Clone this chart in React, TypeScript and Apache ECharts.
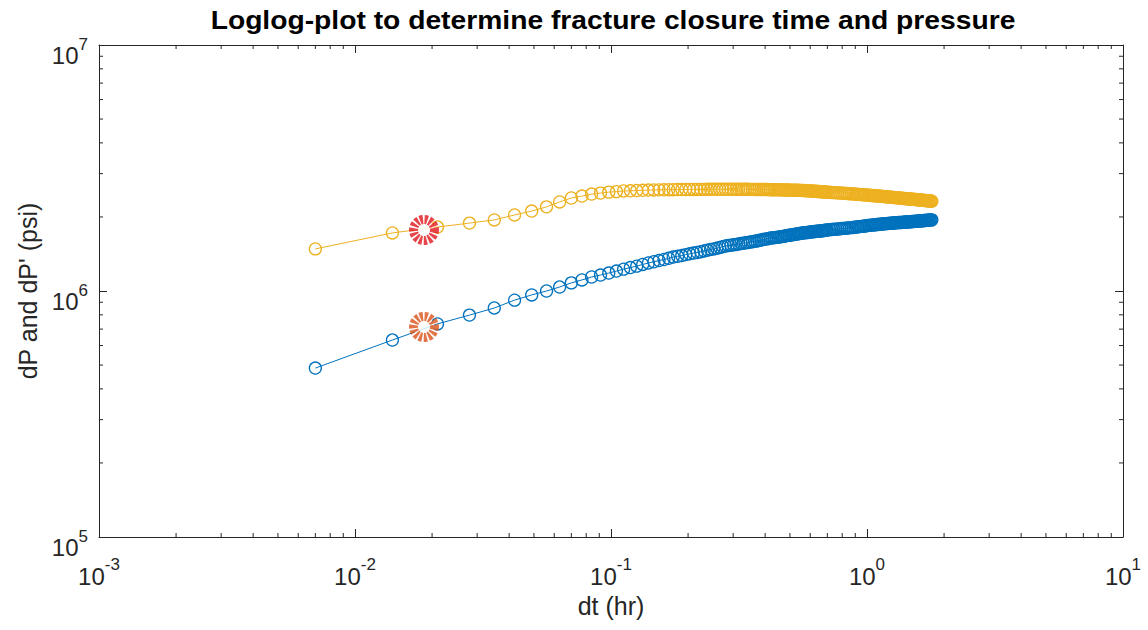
import React, { useEffect, useRef } from "react";
import * as echarts from "echarts";

// Elapsed time since shut-in (hr)
const dtHr = [
  0.007, 0.014, 0.021, 0.028, 0.035, 0.042, 0.049, 0.056, 0.063, 0.07,
  0.077, 0.084, 0.091, 0.098, 0.105, 0.112, 0.119, 0.126, 0.133, 0.14,
  0.147, 0.154, 0.161, 0.168, 0.175, 0.182, 0.189, 0.196, 0.203, 0.21,
  0.217, 0.224, 0.231, 0.238, 0.245, 0.252, 0.259, 0.266, 0.273, 0.28,
  0.287, 0.294, 0.301, 0.308, 0.315, 0.322, 0.329, 0.336, 0.343, 0.35,
  0.357, 0.364, 0.371, 0.378, 0.385, 0.392, 0.399, 0.406, 0.413, 0.42,
  0.427, 0.434, 0.441, 0.448, 0.455, 0.462, 0.469, 0.476, 0.483, 0.49,
  0.497, 0.504, 0.511, 0.518, 0.525, 0.532, 0.539, 0.546, 0.553, 0.56,
  0.567, 0.574, 0.581, 0.588, 0.595, 0.602, 0.609, 0.616, 0.623, 0.63,
  0.637, 0.644, 0.651, 0.658, 0.665, 0.672, 0.679, 0.686, 0.693, 0.7,
  0.714, 0.728, 0.742, 0.756, 0.77, 0.784, 0.798, 0.812, 0.826, 0.84,
  0.854, 0.868, 0.882, 0.896, 0.91, 0.924, 0.938, 0.952, 0.966, 0.98,
  0.994, 1.008, 1.022, 1.036, 1.05, 1.064, 1.078, 1.092, 1.106, 1.12,
  1.134, 1.148, 1.162, 1.176, 1.19, 1.204, 1.218, 1.232, 1.246, 1.26,
  1.274, 1.288, 1.302, 1.316, 1.33, 1.344, 1.358, 1.372, 1.386, 1.4,
  1.414, 1.428, 1.442, 1.456, 1.47, 1.484, 1.498, 1.512, 1.526, 1.54,
  1.554, 1.568, 1.582, 1.596, 1.61, 1.624, 1.638, 1.652, 1.666, 1.68,
  1.694, 1.708, 1.722, 1.736, 1.75, 1.764, 1.778, 1.792,
];

// dP (psi) - blue
const dP = [
  4.86e5, 6.32e5, 7.35e5, 7.98e5, 8.53e5, 9.18e5, 9.64e5, 1.0e6, 1.038e6, 1.079e6,
  1.109e6, 1.14e6, 1.161e6, 1.183e6, 1.205e6, 1.227e6, 1.245e6, 1.262e6, 1.282e6, 1.3e6,
  1.315e6, 1.33e6, 1.343e6, 1.358e6, 1.374e6, 1.384e6, 1.393e6, 1.406e6, 1.416e6, 1.426e6,
  1.435e6, 1.445e6, 1.455e6, 1.466e6, 1.476e6, 1.483e6, 1.493e6, 1.503e6, 1.514e6, 1.524e6,
  1.531e6, 1.535e6, 1.542e6, 1.545e6, 1.552e6, 1.56e6, 1.563e6, 1.57e6, 1.574e6, 1.581e6,
  1.586e6, 1.592e6, 1.597e6, 1.603e6, 1.611e6, 1.618e6, 1.623e6, 1.629e6, 1.635e6, 1.641e6,
  1.644e6, 1.648e6, 1.652e6, 1.656e6, 1.659e6, 1.663e6, 1.667e6, 1.671e6, 1.677e6, 1.683e6,
  1.686e6, 1.69e6, 1.694e6, 1.698e6, 1.702e6, 1.706e6, 1.71e6, 1.714e6, 1.718e6, 1.722e6,
  1.724e6, 1.726e6, 1.728e6, 1.73e6, 1.734e6, 1.738e6, 1.74e6, 1.742e6, 1.744e6, 1.746e6,
  1.748e6, 1.75e6, 1.752e6, 1.754e6, 1.756e6, 1.758e6, 1.762e6, 1.766e6, 1.768e6, 1.77e6,
  1.774e6, 1.778e6, 1.781e6, 1.784e6, 1.788e6, 1.791e6, 1.794e6, 1.797e6, 1.8e6, 1.803e6,
  1.806e6, 1.81e6, 1.813e6, 1.817e6, 1.82e6, 1.824e6, 1.827e6, 1.831e6, 1.834e6, 1.838e6,
  1.841e6, 1.845e6, 1.848e6, 1.851e6, 1.854e6, 1.857e6, 1.86e6, 1.862e6, 1.865e6, 1.868e6,
  1.87e6, 1.872e6, 1.875e6, 1.877e6, 1.879e6, 1.881e6, 1.883e6, 1.885e6, 1.887e6, 1.889e6,
  1.891e6, 1.893e6, 1.895e6, 1.896e6, 1.898e6, 1.899e6, 1.9e6, 1.901e6, 1.903e6, 1.904e6,
  1.906e6, 1.907e6, 1.909e6, 1.91e6, 1.912e6, 1.913e6, 1.915e6, 1.916e6, 1.918e6, 1.919e6,
  1.921e6, 1.922e6, 1.924e6, 1.925e6, 1.927e6, 1.928e6, 1.93e6, 1.931e6, 1.933e6, 1.934e6,
  1.936e6, 1.937e6, 1.939e6, 1.94e6, 1.942e6, 1.943e6, 1.945e6, 1.946e6,
];

// dP' (psi) - yellow
const dPPrime = [
  1.483e6, 1.722e6, 1.82e6, 1.888e6, 1.945e6, 2.037e6, 2.113e6, 2.198e6, 2.301e6, 2.388e6,
  2.432e6, 2.477e6, 2.5e6, 2.523e6, 2.535e6, 2.55e6, 2.555e6, 2.56e6, 2.566e6, 2.572e6,
  2.575e6, 2.577e6, 2.579e6, 2.581e6, 2.582e6, 2.584e6, 2.585e6, 2.586e6, 2.587e6, 2.588e6,
  2.588e6, 2.589e6, 2.589e6, 2.59e6, 2.59e6, 2.591e6, 2.591e6, 2.591e6, 2.592e6, 2.592e6,
  2.592e6, 2.592e6, 2.592e6, 2.592e6, 2.591e6, 2.591e6, 2.591e6, 2.59e6, 2.59e6, 2.589e6,
  2.589e6, 2.588e6, 2.588e6, 2.587e6, 2.586e6, 2.585e6, 2.585e6, 2.584e6, 2.583e6, 2.582e6,
  2.581e6, 2.58e6, 2.579e6, 2.578e6, 2.578e6, 2.577e6, 2.576e6, 2.575e6, 2.574e6, 2.573e6,
  2.572e6, 2.571e6, 2.57e6, 2.569e6, 2.568e6, 2.567e6, 2.566e6, 2.565e6, 2.564e6, 2.563e6,
  2.561e6, 2.559e6, 2.557e6, 2.555e6, 2.553e6, 2.55e6, 2.548e6, 2.546e6, 2.544e6, 2.542e6,
  2.54e6, 2.538e6, 2.536e6, 2.534e6, 2.532e6, 2.53e6, 2.528e6, 2.526e6, 2.524e6, 2.522e6,
  2.519e6, 2.516e6, 2.512e6, 2.509e6, 2.506e6, 2.503e6, 2.499e6, 2.496e6, 2.493e6, 2.49e6,
  2.487e6, 2.484e6, 2.48e6, 2.477e6, 2.474e6, 2.471e6, 2.468e6, 2.465e6, 2.462e6, 2.459e6,
  2.456e6, 2.453e6, 2.449e6, 2.446e6, 2.443e6, 2.44e6, 2.438e6, 2.435e6, 2.432e6, 2.429e6,
  2.427e6, 2.424e6, 2.421e6, 2.419e6, 2.416e6, 2.413e6, 2.41e6, 2.408e6, 2.405e6, 2.402e6,
  2.4e6, 2.397e6, 2.394e6, 2.392e6, 2.389e6, 2.386e6, 2.384e6, 2.381e6, 2.378e6, 2.376e6,
  2.374e6, 2.372e6, 2.369e6, 2.367e6, 2.365e6, 2.363e6, 2.361e6, 2.359e6, 2.357e6, 2.355e6,
  2.353e6, 2.351e6, 2.349e6, 2.347e6, 2.345e6, 2.343e6, 2.341e6, 2.339e6, 2.336e6, 2.334e6,
  2.332e6, 2.33e6, 2.328e6, 2.326e6, 2.324e6, 2.322e6, 2.32e6, 2.318e6,
];

// Fracture closure point
const closureDt = [0.0186];
const closureDP = [7.14e5];
const closureDPPrime = [1.77e6];

// Axis decades
const xDecadeExponents = [-3, -2, -1, 0, 1];
const yDecadeExponents = [5, 6, 7];
const minorMultipliers = [2, 3, 4, 5, 6, 7, 8, 9];

const TITLE = "Loglog-plot to determine fracture closure time and pressure";
const X_NAME = "dt (hr)";
const Y_NAME = "dP and dP' (psi)";

const FONT = '"Liberation Sans", Arial, Helvetica, sans-serif';
const AXIS_COLOR = "#262626";
const BLUE = "#0072BD";
const YELLOW = "#EDB120";

export default function App() {
  const ref = useRef<HTMLDivElement>(null);

  useEffect(() => {
    const el = ref.current;
    if (!el) return;
    const chart = echarts.init(el, null, { renderer: "svg" });

    const xMin = Math.pow(10, xDecadeExponents[0]);
    const xMax = Math.pow(10, xDecadeExponents[xDecadeExponents.length - 1]);
    const yMin = Math.pow(10, yDecadeExponents[0]);
    const yMax = Math.pow(10, yDecadeExponents[yDecadeExponents.length - 1]);

    const minorTicks: number[][] = [];
    for (let i = 0; i < xDecadeExponents.length - 1; i++) {
      for (const m of minorMultipliers) minorTicks.push([m * Math.pow(10, xDecadeExponents[i]), 1e6, 0]);
    }
    for (let i = 0; i < yDecadeExponents.length - 1; i++) {
      for (const m of minorMultipliers) minorTicks.push([0.1, m * Math.pow(10, yDecadeExponents[i]), 1]);
    }

    const rich = {
      b: { fontSize: 24, fontFamily: FONT, color: AXIS_COLOR, lineHeight: 32, verticalAlign: "bottom" },
      s: { fontSize: 17, fontFamily: FONT, color: AXIS_COLOR, lineHeight: 17, verticalAlign: "top" },
    };
    const powFmt = (v: number) => {
      const e = Math.round(Math.log10(v));
      return `{b|10}{s|${e}}`;
    };

    const lineStyle = { color: AXIS_COLOR, width: 1 };
    const tickLine = (x1: number, y1: number, x2: number, y2: number) => ({
      type: "line",
      shape: { x1, y1, x2, y2 },
      style: { stroke: AXIS_COLOR, lineWidth: 1 },
    });

    const option: any = {
      animation: false,
      backgroundColor: "#ffffff",
      grid: { left: 99, right: 25, top: 45, bottom: 93, containLabel: false },
      graphic: [
        {
          type: "text",
          x: 613,
          y: 21,
          scaleX: 1.13,
          style: {
            text: TITLE,
            fontSize: 25,
            fontWeight: "bold",
            fontFamily: FONT,
            fill: "#000000",
            align: "center",
            verticalAlign: "middle",
          },
        },
      ],
      xAxis: [
        {
          type: "log",
          logBase: 10,
          min: xMin,
          max: xMax,
          position: "bottom",
          name: X_NAME,
          nameLocation: "middle",
          nameGap: 56,
          nameTextStyle: { fontSize: 25, fontFamily: FONT, color: AXIS_COLOR },
          axisLine: { show: true, onZero: false, lineStyle },
          axisTick: { show: true, inside: true, length: 8, lineStyle },
          minorTick: { show: false },
          splitLine: { show: false },
          axisLabel: { formatter: powFmt, rich, margin: 19, showMinLabel: true, showMaxLabel: true, hideOverlap: false },
        },
        {
          type: "log",
          logBase: 10,
          min: xMin,
          max: xMax,
          position: "top",
          axisLine: { show: true, onZero: false, lineStyle },
          axisTick: { show: true, inside: true, length: 8, lineStyle },
          splitLine: { show: false },
          axisLabel: { show: false },
        },
      ],
      yAxis: [
        {
          type: "log",
          logBase: 10,
          min: yMin,
          max: yMax,
          position: "left",
          name: Y_NAME,
          nameLocation: "middle",
          nameGap: 58,
          nameRotate: 90,
          nameTextStyle: { fontSize: 25, fontFamily: FONT, color: AXIS_COLOR },
          axisLine: { show: true, onZero: false, lineStyle },
          axisTick: { show: true, inside: true, length: 8, lineStyle },
          splitLine: { show: false },
          axisLabel: { formatter: powFmt, rich, margin: 11, padding: [13, 0, 0, 0], showMinLabel: true, showMaxLabel: true, hideOverlap: false },
        },
        {
          type: "log",
          logBase: 10,
          min: yMin,
          max: yMax,
          position: "right",
          axisLine: { show: true, onZero: false, lineStyle },
          axisTick: { show: true, inside: true, length: 8, lineStyle },
          splitLine: { show: false },
          axisLabel: { show: false },
        },
      ],
      series: [
        {
          type: "custom",
          xAxisIndex: 0,
          yAxisIndex: 0,
          silent: true,
          clip: false,
          z: 1,
          data: minorTicks,
          renderItem: (_params: any, api: any) => {
            const kind = api.value(2);
            if (kind === 0) {
              const v = api.value(0);
              const b = api.coord([v, yMin]);
              const t = api.coord([v, yMax]);
              return {
                type: "group",
                children: [tickLine(b[0], b[1], b[0], b[1] - 4), tickLine(t[0], t[1], t[0], t[1] + 4)],
              };
            }
            const v = api.value(1);
            const l = api.coord([xMin, v]);
            const r = api.coord([xMax, v]);
            return {
              type: "group",
              children: [tickLine(l[0], l[1], l[0] + 4, l[1]), tickLine(r[0], r[1], r[0] - 4, r[1])],
            };
          },
        },
        {
          name: "dP'",
          type: "line",
          silent: true,
          z: 3,
          data: dtHr.map((t, i) => [t, dPPrime[i]]),
          symbol: "circle",
          symbolSize: 12,
          itemStyle: { color: "rgba(0,0,0,0)", borderColor: YELLOW, borderWidth: 1.3 },
          lineStyle: { color: YELLOW, width: 1 },
        },
        {
          name: "dP",
          type: "line",
          silent: true,
          z: 3,
          data: dtHr.map((t, i) => [t, dP[i]]),
          symbol: "circle",
          symbolSize: 12,
          itemStyle: { color: "rgba(0,0,0,0)", borderColor: BLUE, borderWidth: 1.3 },
          lineStyle: { color: BLUE, width: 1 },
        },
        {
          name: "closure dP'",
          type: "scatter",
          silent: true,
          z: 5,
          data: closureDt.map((t, i) => [t, closureDPPrime[i]]),
          symbol: "circle",
          symbolSize: 21,
          itemStyle: { color: "#ffffff", borderColor: "#E0161B", borderWidth: 9, borderType: [3, 1.5] },
        },
        {
          name: "closure dP",
          type: "scatter",
          silent: true,
          z: 5,
          data: closureDt.map((t, i) => [t, closureDP[i]]),
          symbol: "circle",
          symbolSize: 21,
          itemStyle: { color: "#ffffff", borderColor: "#D95319", borderWidth: 9, borderType: [3, 1.5] },
        },
      ],
    };

    chart.setOption(option);
    return () => chart.dispose();
  }, []);

  return (
    <div
      ref={ref}
      style={{ position: "fixed", left: 0, top: 0, width: 1148, height: 630, background: "#fff" }}
    />
  );
}
